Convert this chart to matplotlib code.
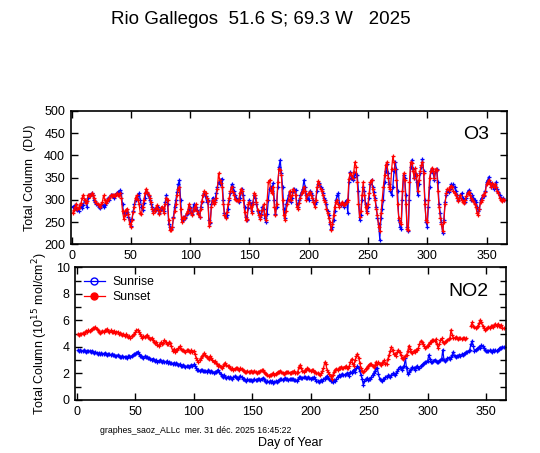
import numpy as np
import matplotlib
matplotlib.use('Agg')
import matplotlib.pyplot as plt
from matplotlib.ticker import MultipleLocator

plt.rcParams['font.family'] = ['Liberation Sans', 'DejaVu Sans']

# %% Data — daily values (day 1..365)
o3_sunrise = [
    285, 283, 288, 280, 278, 275, 285, 290, 282, 288,
    300, 295, 285, 305, 310, 312, 315, 310, 300, 295,
    290, 288, 285, 282, 288, 290, 285, 288, 292, 298,
    305, 300, 310, 312, 308, 305, 312, 315, 318, 310,
    322, 315, 290, 270, 268, 275, 272, 262, 255, 242,
    258, 275, 290, 300, 305, 310, 315, 300, 285, 278,
    292, 305, 318, 315, 308, 300, 290, 285, 275, 280,
    278, 282, 285, 270, 278, 282, 280, 275, 295, 310,
    290, 245, 240, 235, 238, 262, 285, 300, 318, 335,
    345, 300, 258, 255, 262, 260, 268, 270, 280, 285,
    272, 268, 290, 280, 285, 278, 270, 262, 285, 295,
    310, 315, 308, 295, 300, 255, 248, 290, 305, 295,
    300, 315, 330, 340, 335, 345, 348, 300, 270, 262,
    265, 280, 300, 315, 335, 328, 320, 310, 305, 300,
    295, 305, 318, 325, 310, 285, 262, 255, 282, 300,
    290, 275, 295, 310, 305, 290, 275, 270, 262, 268,
    285, 280, 260, 250, 268, 300, 325, 330, 320, 338,
    300, 268, 285, 330, 375, 390, 360, 330, 280, 260,
    290, 300, 310, 318, 295, 305, 320, 325, 322, 290,
    285, 300, 310, 318, 325, 345, 330, 310, 305, 300,
    320, 315, 310, 300, 290, 295, 320, 335, 338, 330,
    325, 315, 305, 300, 290, 275, 265, 245, 235, 240,
    255, 275, 300, 310, 315, 290, 288, 292, 290, 285,
    295, 300, 270, 340, 362, 350, 345, 352, 360, 355,
    355, 320, 255, 265, 300, 330, 320, 290, 275, 285,
    305, 335, 345, 330, 318, 305, 285, 260, 245, 210,
    260, 280, 300, 340, 365, 380, 360, 335, 320, 310,
    330, 365, 385, 370, 320, 255, 240, 235, 300, 355,
    350, 310, 240, 230, 300, 375, 390, 370, 350, 360,
    340, 310, 335, 360, 375, 392, 365, 300, 250, 240,
    285, 330, 365, 370, 360, 345, 365, 370, 340, 290,
    270, 250, 225, 255, 295, 310, 320, 318, 325, 335,
    330, 335, 328, 320, 310, 300, 305, 310, 315, 305,
    300, 295, 305, 318, 322, 315, 300, 310, 305, 300,
    295, 285, 275, 280, 300, 305, 310, 308, 320, 340,
    345, 352, 340, 330, 335, 325, 330, 340, 325, 318,
    310, 305, 300, 305, 300,
]
o3_sunset = [
    270, 278, 285, 290, 280, 282, 288, 292, 305, 312,
    300, 292, 298, 310, 312, 308, 315, 312, 305, 298,
    292, 290, 288, 285, 290, 295, 310, 300, 292, 298,
    302, 305, 310, 308, 312, 310, 308, 315, 312, 310,
    315, 305, 275, 258, 265, 278, 280, 268, 245, 240,
    255, 272, 285, 305, 310, 300, 290, 270, 268, 285,
    300, 315, 325, 318, 310, 305, 295, 280, 270, 275,
    282, 288, 280, 268, 275, 285, 282, 270, 290, 305,
    300, 255, 232, 232, 240, 260, 275, 290, 310, 325,
    330, 280, 250, 262, 258, 262, 270, 275, 290, 282,
    270, 265, 278, 285, 290, 275, 268, 262, 280, 298,
    312, 320, 315, 305, 298, 242, 250, 285, 300, 290,
    295, 305, 325, 360, 345, 338, 330, 290, 265, 260,
    272, 290, 305, 320, 330, 318, 312, 302, 300, 298,
    300, 315, 325, 320, 300, 272, 255, 258, 290, 295,
    285, 270, 290, 315, 312, 295, 278, 265, 258, 265,
    278, 290, 265, 255, 300, 340, 345, 320, 315, 330,
    285, 265, 290, 340, 370, 368, 355, 300, 265, 255,
    275, 290, 300, 320, 300, 310, 325, 320, 310, 285,
    280, 292, 305, 315, 320, 330, 320, 300, 310, 315,
    318, 310, 305, 295, 285, 300, 328, 342, 335, 325,
    320, 310, 300, 295, 280, 270, 260, 250, 232, 245,
    265, 285, 295, 300, 290, 285, 290, 295, 290, 288,
    290, 295, 300, 348, 360, 355, 350, 362, 385, 375,
    340, 290, 262, 275, 310, 340, 310, 285, 270, 290,
    315, 340, 345, 325, 310, 300, 280, 265, 240, 230,
    270, 300, 330, 355, 378, 385, 350, 330, 325, 370,
    398, 385, 370, 345, 290, 260, 250, 245, 320, 360,
    345, 290, 235, 232, 340, 385, 382, 365, 350, 372,
    355, 320, 345, 365, 378, 385, 360, 290, 255, 250,
    300, 350, 365, 372, 365, 350, 370, 368, 320, 285,
    260, 245, 230, 250, 290, 315, 325, 322, 328, 332,
    328, 320, 315, 310, 305, 298, 305, 312, 300, 295,
    292, 300, 308, 315, 318, 310, 305, 300, 298, 290,
    285, 270, 265, 280, 295, 300, 312, 310, 318, 335,
    340, 345, 335, 330, 338, 328, 335, 330, 320, 315,
    305, 300, 298, 302, 300,
]
no2_sunrise = [
    3.75, 3.70, 3.78, 3.72, 3.68, 3.75, 3.70, 3.65, 3.72, 3.68,
    3.70, 3.65, 3.72, 3.60, 3.55, 3.62, 3.58, 3.50, 3.55, 3.48,
    3.52, 3.45, 3.50, 3.55, 3.48, 3.42, 3.50, 3.45, 3.40, 3.45,
    3.38, 3.42, 3.35, 3.30, 3.40, 3.32, 3.28, 3.25, 3.30, 3.22,
    3.28, 3.25, 3.20, 3.30, 3.35, 3.28, 3.32, 3.40, 3.45, 3.50,
    3.55, 3.65, 3.45, 3.35, 3.30, 3.25, 3.20, 3.30, 3.25, 3.28,
    3.15, 3.20, 3.10, 3.05, 3.12, 3.00, 2.95, 3.02, 2.90, 2.95,
    3.00, 2.92, 2.88, 2.95, 2.90, 2.85, 2.92, 2.80, 2.85, 2.78,
    2.82, 2.75, 2.80, 2.72, 2.78, 2.70, 2.65, 2.72, 2.60, 2.55,
    2.62, 2.58, 2.50, 2.55, 2.60, 2.52, 2.58, 2.62, 2.55, 2.68,
    2.60, 2.45, 2.25, 2.30, 2.20, 2.25, 2.28, 2.18, 2.22, 2.20,
    2.15, 2.25, 2.18, 2.10, 2.20, 2.15, 2.05, 2.12, 2.08, 2.20,
    2.30, 2.10, 1.95, 1.80, 1.75, 1.90, 1.70, 1.65, 1.75, 1.68,
    1.72, 1.65, 1.60, 1.70, 1.80, 1.75, 1.68, 1.62, 1.72, 1.80,
    1.70, 1.62, 1.55, 1.50, 1.45, 1.55, 1.50, 1.48, 1.52, 1.45,
    1.50, 1.55, 1.48, 1.52, 1.60, 1.55, 1.50, 1.62, 1.65, 1.58,
    1.45, 1.38, 1.42, 1.35, 1.40, 1.38, 1.45, 1.30, 1.35, 1.42,
    1.38, 1.45, 1.50, 1.55, 1.60, 1.52, 1.58, 1.65, 1.60, 1.55,
    1.50, 1.58, 1.62, 1.55, 1.60, 1.52, 1.48, 1.45, 1.55, 1.70,
    1.75, 1.68, 1.65, 1.72, 1.70, 1.65, 1.68, 1.72, 1.65, 1.62,
    1.68, 1.65, 1.70, 1.55, 1.45, 1.40, 1.38, 1.42, 1.50, 1.45,
    1.55, 1.60, 1.75, 1.80, 1.65, 1.55, 1.45, 1.40, 1.35, 1.50,
    1.40, 1.60, 1.75, 1.85, 1.80, 1.90, 1.95, 1.85, 1.90, 1.95,
    2.00, 1.95, 1.80, 2.10, 2.00, 2.20, 2.30, 2.10, 2.45, 2.55,
    2.40, 2.20, 1.90, 1.60, 1.15, 1.40, 1.55, 1.65, 1.50, 1.55,
    1.60, 1.75, 1.90, 2.05, 2.20, 2.45, 2.40, 1.95, 1.60, 1.50,
    1.45, 1.55, 1.60, 1.70, 1.75, 1.85, 1.80, 1.70, 1.90, 2.00,
    1.95, 1.85, 2.00, 2.20, 2.35, 2.50, 2.45, 2.30, 2.50, 2.60,
    3.15, 2.40, 1.95, 2.10, 2.25, 2.35, 2.50, 2.40, 2.30, 2.50,
    2.55, 2.45, 2.40, 2.55, 2.65, 2.70, 2.80, 2.85, 2.90, 2.95,
    3.40, 3.10, 2.90, 2.85, 2.95, 3.05, 2.95, 2.85, 2.90, 2.95,
    3.05, 3.10, 3.80, 3.00, 2.95, 3.05, 3.15, 3.20, 3.10, 3.25,
    3.40, 3.65, 3.30, 3.25, 3.35, 3.30, 3.40, 3.35, 3.45, 3.40,
    3.50, 3.55, 3.60, 3.65, 3.70, 3.80, 4.20, 4.45, 4.10, 3.70,
    3.80, 3.85, 3.90, 4.00, 3.95, 4.15, 4.05, 3.90, 3.75, 3.70,
    3.72, 3.68, 3.75, 3.70, 3.65, 3.78, 3.72, 3.75, 3.70, 3.80,
    3.85, 3.95, 3.90, 4.00, 3.98,
]
no2_sunset = [
    4.95, 4.90, 5.00, 4.95, 5.05, 5.00, 5.10, 5.20, 5.15, 5.25,
    5.20, 5.30, 5.35, 5.40, 5.45, 5.50, 5.35, 5.25, 5.15, 5.05,
    5.10, 5.20, 5.15, 5.25, 5.30, 5.35, 5.20, 5.15, 5.25, 5.10,
    5.15, 5.20, 5.05, 5.10, 5.15, 5.00, 5.05, 4.95, 4.90, 5.00,
    4.85, 4.95, 4.80, 4.75, 4.85, 4.70, 4.80, 4.90, 4.95, 5.10,
    5.25, 5.30, 5.15, 5.00, 4.80, 4.70, 4.85, 4.75, 4.80, 4.90,
    4.75, 4.65, 4.60, 4.70, 4.50, 4.35, 4.30, 4.40, 4.15, 4.10,
    4.25, 4.35, 4.20, 4.30, 4.50, 4.40, 4.25, 4.20, 4.35, 4.30,
    4.05, 3.70, 3.85, 3.60, 3.80, 3.75, 3.90, 4.05, 3.85, 3.75,
    3.80, 3.70, 3.65, 3.75, 3.80, 3.70, 3.65, 3.75, 3.60, 3.70,
    3.50, 3.20, 3.00, 2.90, 3.00, 3.15, 3.30, 3.40, 3.55, 3.40,
    3.25, 3.20, 3.10, 3.30, 3.15, 3.00, 2.85, 2.95, 2.80, 2.70,
    2.55, 2.65, 2.50, 2.40, 2.55, 2.70, 2.80, 2.65, 2.55, 2.60,
    2.45, 2.35, 2.40, 2.30, 2.35, 2.40, 2.45, 2.35, 2.30, 2.40,
    2.35, 2.25, 2.20, 2.10, 2.15, 2.20, 2.10, 2.15, 2.20, 2.15,
    2.10, 2.20, 2.15, 2.05, 2.10, 2.15, 2.20, 2.25, 2.30, 2.15,
    2.05, 1.95, 1.85, 1.80, 1.90, 1.85, 1.95, 2.00, 1.90, 1.95,
    2.05, 2.10, 2.15, 2.20, 2.10, 2.00, 1.95, 2.05, 2.10, 2.15,
    2.10, 2.05, 2.00, 2.15, 2.10, 2.20, 2.05, 2.00, 2.15, 2.50,
    2.65, 2.40, 2.20, 2.15, 2.25, 2.30, 2.40, 2.35, 2.25, 2.20,
    2.25, 2.30, 2.15, 2.10, 2.05, 2.00, 1.95, 1.90, 2.00, 2.20,
    2.40, 2.85, 2.70, 2.30, 2.10, 1.95, 1.80, 1.60, 1.90, 2.15,
    2.30, 2.35, 2.25, 2.40, 2.45, 2.50, 2.40, 2.45, 2.50, 2.55,
    2.45, 2.40, 2.55, 2.90, 3.10, 2.70, 2.60, 3.00, 3.30, 3.50,
    3.20, 2.80, 2.40, 2.20, 2.10, 2.20, 2.35, 2.45, 2.55, 2.65,
    2.75, 2.70, 2.55, 2.50, 2.65, 2.90, 2.75, 2.85, 2.70, 2.65,
    2.80, 2.90, 3.00, 2.70, 2.75, 3.10, 3.40, 3.70, 4.00, 3.75,
    3.50, 3.45, 3.30, 3.60, 3.80, 3.60, 3.40, 3.20, 3.10, 3.25,
    3.30, 3.40, 3.70, 4.10, 3.85, 3.60, 3.55, 3.70, 3.65, 3.80,
    3.75, 3.90, 4.20, 4.45, 4.40, 4.20, 4.05, 3.95, 4.00, 4.10,
    4.25, 4.35, 4.40, 4.55, 4.50, 4.45, 4.60, 4.20, 3.90, 4.20,
    4.50, 4.65, 4.40, 4.30, 4.35, 4.45, 4.55, 4.60, 4.65, 5.30,
    4.90, 4.70, 4.65, 4.75, 4.70, 4.60, 4.65, 4.70, 4.60, 4.65,
    4.70, 4.60, 4.65, np.nan, np.nan, np.nan, 5.60, 5.85, 5.55, 5.50,
    5.45, 5.50, 5.60, 5.80, 6.05, 5.90, 5.60, 5.40, 5.30, 5.35,
    5.40, 5.50, 5.45, 5.55, 5.60, 5.50, 5.65, 5.70, 5.55, 5.75,
    5.60, 5.55, 5.65, 5.45, 5.40,
]
days = np.arange(1, len(o3_sunrise) + 1)

TITLE = 'Rio Gallegos  51.6 S; 69.3 W   2025'
FOOTER = 'graphes_saoz_ALLc  mer. 31 déc. 2025 16:45:22'

BLUE = '#0000ff'
RED = '#ff0000'

# %% Figure
fig = plt.figure(figsize=(5.4, 4.53), dpi=100)
ax1 = fig.add_axes([0.1309, 0.4607, 0.8074, 0.2943])
ax2 = fig.add_axes([0.1394, 0.1170, 0.7976, 0.2925])

line_kw = dict(linewidth=0.9, marker='+', markersize=3.5, markeredgewidth=0.9)

ax1.plot(days, o3_sunrise, color=BLUE, **line_kw)
ax1.plot(days, o3_sunset, color=RED, **line_kw)
ax2.plot(days, no2_sunrise, color=BLUE, **line_kw)
ax2.plot(days, no2_sunset, color=RED, **line_kw)

ax1.set_xlim(-0.7, 367)
ax1.set_ylim(200, 500)
ax1.yaxis.set_major_locator(MultipleLocator(50))
ax2.set_xlim(-1.2, 367)
ax2.set_ylim(0, 10)
ax2.yaxis.set_major_locator(MultipleLocator(2))
ax2.yaxis.set_minor_locator(MultipleLocator(1))

for ax in (ax1, ax2):
    ax.xaxis.set_major_locator(MultipleLocator(50))
    ax.tick_params(which='both', direction='in', top=True, right=True,
                   labelsize=9, width=1.0, pad=4)
    ax.tick_params(which='major', length=5)
    ax.tick_params(which='minor', length=4)
    for sp in ax.spines.values():
        sp.set_linewidth(1.2)

ax1.set_ylabel('Total Column  (DU)', fontsize=9, labelpad=6)
ax2.set_ylabel('Total Column (10$^{15}$ mol/cm$^{2}$)', fontsize=9, labelpad=4)
ax2.set_xlabel('Day of Year', fontsize=9, labelpad=14)

ax1.text(0.96, 0.82, 'O3', transform=ax1.transAxes, ha='right', va='center', fontsize=14)
ax2.text(0.96, 0.82, 'NO2', transform=ax2.transAxes, ha='right', va='center', fontsize=14)

# legend built from proxy handles so markers match the reference key
h1, = ax2.plot([], [], color=BLUE, linewidth=0.9, marker='o', markersize=5,
               markerfacecolor='none', markeredgecolor=BLUE)
h2, = ax2.plot([], [], color=RED, linewidth=0.9, marker='o', markersize=5,
               markerfacecolor=RED, markeredgecolor=RED)
ax2.legend([h1, h2], ['Sunrise', 'Sunset'], loc='upper left', frameon=False,
           fontsize=8.8, handlelength=1.7, handletextpad=0.6, labelspacing=0.25,
           borderaxespad=0.3, bbox_to_anchor=(0.0, 1.0))

fig.text(0.483, 0.958, TITLE, ha='center', va='center', fontsize=13.5)
# footer sits just above the x label so the two do not collide
fig.text(0.185, 0.049, FOOTER, ha='left', va='center', fontsize=6.3)

fig.savefig('out.png', dpi=100)
